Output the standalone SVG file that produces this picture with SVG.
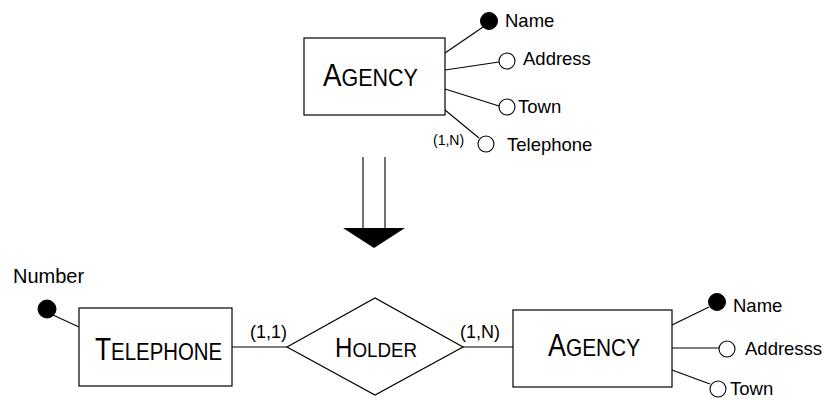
<svg xmlns="http://www.w3.org/2000/svg" width="830" height="400" viewBox="0 0 830 400">
<style>
.box{fill:#fff;stroke:#000;stroke-width:1.2}
.ln{stroke:#000;stroke-width:1.1;fill:none}
.opt{fill:#fff;stroke:#000;stroke-width:1.1}
.key{fill:#000;stroke:#000;stroke-width:1}
text{font-family:"Liberation Sans",Arial,sans-serif;fill:#000}
.lbl{font-size:18.5px}
.card{font-size:18px}
.cs{font-size:14px}
.big{font-size:31px}
.sm{font-size:24px}
</style>
<rect width="830" height="400" fill="#fff"/>
<g id="connectors">
<line class="ln" x1="445" y1="53" x2="483" y2="27"/>
<line class="ln" x1="445" y1="70" x2="499" y2="62"/>
<line class="ln" x1="445" y1="89" x2="499" y2="106"/>
<line class="ln" x1="445" y1="110" x2="479" y2="138"/>
<line class="ln" x1="363" y1="157" x2="363" y2="228"/>
<line class="ln" x1="385" y1="157" x2="385" y2="228"/>
<line class="ln" x1="53" y1="315" x2="79" y2="327"/>
<line class="ln" x1="232" y1="347" x2="287" y2="347"/>
<line class="ln" x1="463" y1="347" x2="513" y2="347"/>
<line class="ln" x1="672" y1="325" x2="709" y2="307"/>
<line class="ln" x1="672" y1="348" x2="719" y2="348"/>
<line class="ln" x1="672" y1="370" x2="710" y2="384"/>
</g>
<g id="arrow">
<polygon points="343,228 405,228 374,248" fill="#000"/>
</g>
<g id="agency-top">
<rect class="box" x="304" y="38" width="141" height="77"/>
<text transform="translate(323,86) scale(0.896,1)"><tspan class="big">A</tspan><tspan class="sm">GENCY</tspan></text>
</g>
<g id="attr-name-top"><circle class="key" cx="489" cy="21" r="8.5"/><text class="lbl" x="505" y="27">Name</text></g>
<g id="attr-address-top"><circle class="opt" cx="507" cy="61" r="8"/><text class="lbl" x="523" y="65">Address</text></g>
<g id="attr-town-top"><circle class="opt" cx="507" cy="107" r="8"/><text class="lbl" x="518" y="113">Town</text></g>
<g id="attr-telephone-top"><circle class="opt" cx="486" cy="144" r="8"/><text class="cs" x="433" y="145">(1,N)</text><text class="lbl" x="507" y="151">Telephone</text></g>
<g id="telephone">
<rect class="box" x="79" y="308" width="153" height="78"/>
<text transform="translate(95,360) scale(0.85,1)"><tspan class="big">T</tspan><tspan class="sm">ELEPHONE</tspan></text>
</g>
<g id="attr-number"><circle class="key" cx="47" cy="309" r="9"/><text x="13" y="283" style="font-size:20px">Number</text></g>
<g id="holder">
<polygon class="box" points="287,347 375,298 463,347 375,395"/>
<text transform="translate(335,357) scale(0.893,1)"><tspan style="font-size:27px">H</tspan><tspan style="font-size:21px">OLDER</tspan></text>
</g>
<text class="card" x="250" y="338">(1,1)</text>
<text class="card" x="460" y="338">(1,N)</text>
<g id="agency-bottom">
<rect class="box" x="513" y="310" width="159" height="77"/>
<text transform="translate(548,356) scale(0.868,1)"><tspan class="big">A</tspan><tspan class="sm">GENCY</tspan></text>
</g>
<g id="attr-name-bottom"><circle class="key" cx="717" cy="302" r="8.5"/><text class="lbl" x="733" y="312">Name</text></g>
<g id="attr-address-bottom"><circle class="opt" cx="727" cy="349" r="8"/><text class="lbl" x="745" y="355">Addresss</text></g>
<g id="attr-town-bottom"><circle class="opt" cx="718" cy="389" r="8"/><text class="lbl" x="730" y="395">Town</text></g>
</svg>
